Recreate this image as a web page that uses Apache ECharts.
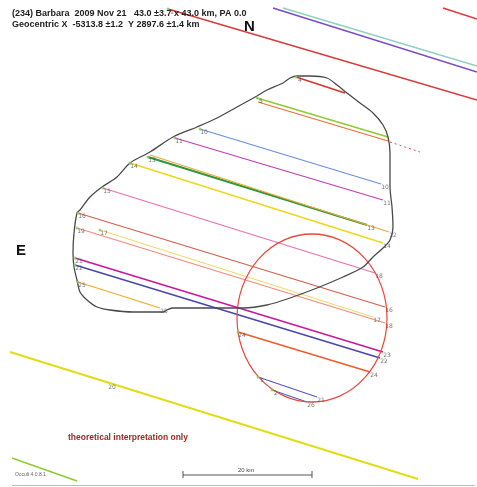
<!DOCTYPE html>
<html><head><meta charset="utf-8">
<script src="https://cdn.jsdelivr.net/npm/echarts@6/dist/echarts.min.js"></script>
<style>html,body{margin:0;padding:0;background:#fff}#c{width:477px;height:487px}</style>
</head><body><div id="c"></div>
<script>
// Chord data (plot units, x right, y down)
const chordX1 = [168, 283, 273, 443, 296, 257, 258, 200, 175, 148, 150, 130, 103, 78, 77, 100, 75, 75, 78, 238, 258, 272, 10, 12];
const chordY1 = [9, 8, 8, 8, 77, 98, 102, 129, 138, 157, 155, 163, 188, 213, 228, 230, 258, 265, 282, 332, 377, 390, 352, 458];
const chordX2 = [477, 477, 477, 477, 345, 388, 388, 381, 383, 367, 389, 383, 375, 385, 385, 373, 383, 380, 160, 370, 317, 307, 418, 77];
const chordY2 = [100, 66, 72, 19, 93, 137, 141, 184, 200, 225, 232, 243, 273, 307, 323, 317, 352, 358, 308, 372, 397, 402, 479, 481];
const startLabels = ['1', '', '', '', '4', '5', '', '10', '11', '13', '', '14', '15', '16', '19', '17', '21', '22', '25', '24', '1', '2', '', ''];
const endLabels = ['', '', '', '', '', '', '', '10', '11', '13', '12', '14', '18', '16', '18', '17', '23', '22', '25', '24', '21', '26', '', ''];
// Label on the long miss chord
const missLabelX = [108];
const missLabelY = [384];
const missLabelText = ['20'];
// Asteroid profile outline
const outlineX = [257, 267, 283, 290, 297, 310, 327, 337, 347, 360, 373, 383, 388, 390, 390, 392, 393, 390, 383, 373, 363, 343, 317, 290, 267, 243, 217, 173, 167, 163, 133, 110, 97, 87, 80, 77, 74, 73, 74, 77, 80, 90, 102, 117, 130, 150, 173, 197, 217, 237, 257];
const outlineY = [96, 90, 83, 78, 76, 76, 78, 85, 93, 103, 113, 125, 137, 153, 187, 207, 227, 240, 248, 257, 267, 277, 288, 298, 305, 308, 308, 308, 310, 312, 312, 310, 307, 300, 292, 280, 267, 253, 233, 213, 210, 197, 187, 177, 163, 152, 137, 127, 118, 107, 96];
// Fitted circle: centre and radii
const circleCentre = [312, 318];
const circleRadius = [75, 84];
// Dotted extension
const dottedX = [390, 420];
const dottedY = [142, 152];

const chordColors = ['#d83a3a', '#8fd0c0', '#7a4cc4', '#e03a3a', '#d83030', '#8ccc33', '#f07038', '#6b8fe0', '#c43fb0', '#2a9a3a', '#f0a838', '#ecd820', '#ef6fb0', '#d06050', '#f48a80', '#eedc70', '#c8189a', '#4848a8', '#f8a828', '#f05a28', '#5658c4', '#4a62c8', '#e2dc18', '#8ccc33'];
const chordWidths = [1.6, 1.4, 1.6, 1.6, 1.4, 1.6, 1.3, 1.3, 1.3, 2, 1.3, 1.6, 1.3, 1.3, 1.2, 1.2, 1.6, 1.6, 1.3, 1.4, 1.3, 1.3, 2, 1.6];

const series = [];
const labelPts = [];
const startDots = [];
for (let i = 0; i < chordX1.length; i++) {
  series.push({
    type: 'line', silent: true, symbol: 'none',
    data: [[chordX1[i], chordY1[i]], [chordX2[i], chordY2[i]]],
    lineStyle: { color: chordColors[i], width: chordWidths[i] },
    z: 3
  });
  if (startLabels[i]) { labelPts.push({ value: [chordX1[i], chordY1[i]], name: startLabels[i] }); startDots.push([chordX1[i], chordY1[i]]); }
  if (endLabels[i]) labelPts.push({ value: [chordX2[i], chordY2[i]], name: endLabels[i] });
}
missLabelX.forEach((x, i) => labelPts.push({ value: [x, missLabelY[i]], name: missLabelText[i] }));
series.push({
  type: 'scatter', silent: true, symbolSize: 3, z: 6,
  data: startDots, itemStyle: { color: '#8ccc55', opacity: 0.8 }
});
series.push({
  type: 'scatter', silent: true, symbolSize: 0, z: 7,
  data: labelPts,
  label: { show: true, formatter: '{b}', position: 'bottom', distance: 0, offset: [4, 0], fontSize: 6, color: '#555', fontFamily: 'DejaVu Sans' }
});
series.push({
  type: 'line', silent: true, symbol: 'none', smooth: 0.3,
  data: outlineX.map((x, i) => [x, outlineY[i]]),
  lineStyle: { color: '#4a4a4a', width: 1.3 }, z: 5
});
series.push({
  type: 'line', silent: true, symbol: 'none',
  data: dottedX.map((x, i) => [x, dottedY[i]]),
  lineStyle: { color: '#e05050', width: 1, type: [2, 3] }, z: 3
});
series.push({
  type: 'custom', silent: true, z: 4,
  data: [[circleCentre[0], circleCentre[1], circleRadius[0], circleRadius[1]]],
  renderItem: function (params, api) {
    const c = api.coord([api.value(0), api.value(1)]);
    const s = api.size([api.value(2), api.value(3)]);
    return {
      type: 'circle', x: c[0], y: c[1], scaleX: 1, scaleY: s[1] / s[0],
      shape: { cx: 0, cy: 0, r: s[0] },
      style: { fill: 'none', stroke: '#e8483a', lineWidth: 1.2, strokeNoScale: true }
    };
  }
});

const chart = echarts.init(document.getElementById('c'), null, { renderer: 'canvas' });
chart.setOption({
  animation: false,
  backgroundColor: '#ffffff',
  grid: { left: 0, right: 0, top: 0, bottom: 0 },
  xAxis: { type: 'value', min: 0, max: 477, show: false },
  yAxis: { type: 'value', min: 0, max: 487, inverse: true, show: false },
  graphic: [
    { type: 'text', left: 12, top: 9, z: 10, style: { text: '(234) Barbara  2009 Nov 21   43.0 ±3.7 x 43.0 km, PA 0.0', font: 'bold 9px "Liberation Sans"', fill: '#222' } },
    { type: 'text', left: 12, top: 20, z: 10, style: { text: 'Geocentric X  -5313.8 ±1.2  Y 2897.6 ±1.4 km', font: 'bold 9px "Liberation Sans"', fill: '#222' } },
    { type: 'text', left: 244, top: 19, z: 10, style: { text: 'N', font: 'bold 15px "Liberation Sans"', fill: '#111' } },
    { type: 'text', left: 16, top: 243, z: 10, style: { text: 'E', font: 'bold 15px "Liberation Sans"', fill: '#111' } },
    { type: 'text', left: 68, top: 433, z: 10, style: { text: 'theoretical interpretation only', font: 'bold 8.5px "Liberation Sans"', fill: '#9a2a22' } },
    { type: 'text', left: 15, top: 472, z: 10, style: { text: 'Occult 4.0.8.1', font: '5px "Liberation Sans"', fill: '#666' } },
    { type: 'line', z: 10, shape: { x1: 183, y1: 475, x2: 312, y2: 475 }, style: { stroke: '#555', lineWidth: 1 } },
    { type: 'line', z: 10, shape: { x1: 183, y1: 471, x2: 183, y2: 478 }, style: { stroke: '#555', lineWidth: 1 } },
    { type: 'line', z: 10, shape: { x1: 312, y1: 471, x2: 312, y2: 478 }, style: { stroke: '#555', lineWidth: 1 } },
    { type: 'text', left: 238, top: 467, z: 10, style: { text: '20 km', font: '6px "Liberation Sans"', fill: '#444' } },
    { type: 'line', z: 10, shape: { x1: 12, y1: 485.5, x2: 475, y2: 485.5 }, style: { stroke: '#bbb', lineWidth: 1 } }
  ],
  series: series
});
</script></body></html>
